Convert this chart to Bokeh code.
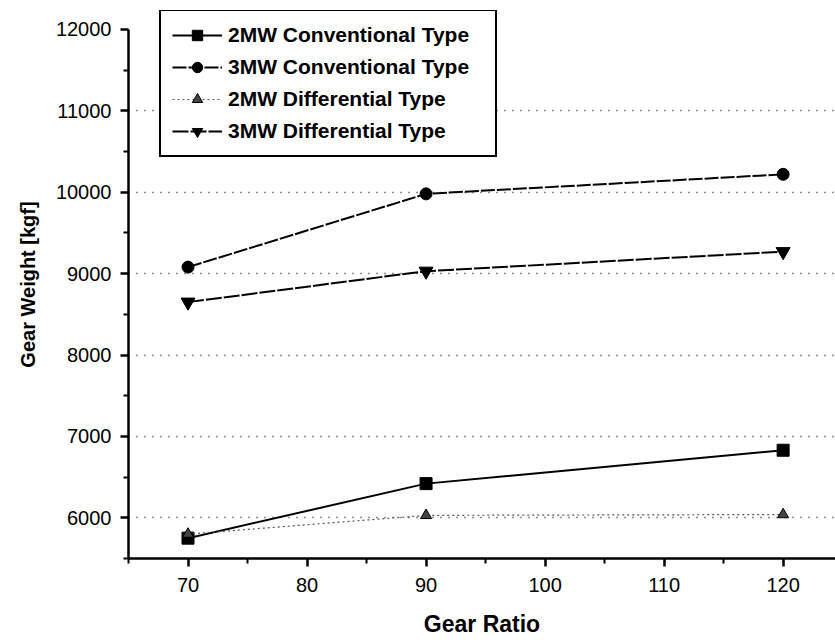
from bokeh.plotting import figure
from bokeh.models import FixedTicker, Range1d, Legend, LegendItem
from bokeh.embed import file_html
from bokeh.resources import INLINE

gear_ratio = [70, 90, 120]
mw2_conventional = [5750, 6420, 6830]
mw3_conventional = [9080, 9980, 10220]
mw2_differential = [5800, 6030, 6040]
mw3_differential = [8650, 9030, 9270]

x_ticks = [70, 80, 90, 100, 110, 120]
x_minor = [65, 75, 85, 95, 105, 115, 125]
y_ticks = [6000, 7000, 8000, 9000, 10000, 11000, 12000]
y_minor = [5500, 6500, 7500, 8500, 9500, 10500, 11500]
grid_ticks = [6000, 7000, 8000, 9000, 10000, 11000]

FONT = "Liberation Sans"

p = figure(width=835, height=642, output_backend="svg", toolbar_location=None,
           x_range=Range1d(65, 124.4), y_range=Range1d(5500, 12233),
           min_border_left=128, min_border_right=0, min_border_top=10,
           min_border_bottom=84)
p.outline_line_color = None
p.background_fill_color = "white"

# grid
p.xgrid.visible = False
p.ygrid.ticker = FixedTicker(ticks=grid_ticks)
p.ygrid.grid_line_color = "#222222"
p.ygrid.grid_line_dash = "1 7"
p.ygrid.grid_line_width = 1.5

# axes
p.xaxis.ticker = FixedTicker(ticks=x_ticks, minor_ticks=x_minor)
p.yaxis.ticker = FixedTicker(ticks=y_ticks, minor_ticks=y_minor)
p.yaxis.bounds = (5500, 12000)
for ax in (p.xaxis, p.yaxis):
    ax.axis_line_width = 2.5
    ax.axis_line_color = "black"
    ax.major_tick_line_width = 2.5
    ax.major_tick_line_color = "black"
    ax.major_tick_out = 8
    ax.major_tick_in = 0
    ax.minor_tick_line_width = 2
    ax.minor_tick_line_color = "black"
    ax.minor_tick_out = 5
    ax.minor_tick_in = 0
    ax.major_label_text_font = FONT
    ax.major_label_text_font_size = "20px"
    ax.major_label_text_color = "black"
    ax.axis_label_text_font = FONT
    ax.axis_label_text_font_style = "bold"
    ax.axis_label_text_color = "black"
p.xaxis.axis_label = "Gear Ratio"
p.yaxis.axis_label = "Gear Weight [kgf]"
p.xaxis.axis_label_text_font_size = "23px"
p.yaxis.axis_label_text_font_size = "20px"
p.xaxis.major_label_standoff = 11
p.yaxis.major_label_standoff = 9
p.xaxis.axis_label_standoff = 16
p.yaxis.axis_label_standoff = 14

# series
l1 = p.line(gear_ratio, mw2_conventional, line_color="black", line_width=2)
m1 = p.scatter(gear_ratio, mw2_conventional, marker="square", size=12,
               fill_color="black", line_color="black")

l2 = p.line(gear_ratio, mw3_conventional, line_color="black", line_width=2,
            line_dash="14 2")
m2 = p.scatter(gear_ratio, mw3_conventional, marker="circle", size=12,
               fill_color="black", line_color="black")

l3 = p.line(gear_ratio, mw2_differential, line_color="#555555", line_width=1.2,
            line_dash="2 3")
m3 = p.scatter(gear_ratio, mw2_differential, marker="triangle", size=11,
               fill_color="#444444", line_color="black")

l4 = p.line(gear_ratio, mw3_differential, line_color="black", line_width=2,
            line_dash="16 2")
m4 = p.scatter(gear_ratio, mw3_differential, marker="inverted_triangle", size=14,
               fill_color="black", line_color="black")

legend = Legend(items=[
    LegendItem(label="2MW Conventional Type", renderers=[l1, m1]),
    LegendItem(label="3MW Conventional Type", renderers=[l2, m2]),
    LegendItem(label="2MW Differential Type", renderers=[l3, m3]),
    LegendItem(label="3MW Differential Type", renderers=[l4, m4]),
], location=(31, 401))
legend.border_line_color = "black"
legend.border_line_alpha = 1
legend.border_line_width = 2.5
legend.background_fill_color = "white"
legend.background_fill_alpha = 1
legend.padding = 11
legend.spacing = 6
legend.glyph_width = 50
legend.glyph_height = 26
legend.label_height = 26
legend.label_width = 256
legend.label_standoff = 6
legend.margin = 0
legend.label_text_font = FONT
legend.label_text_font_size = "21px"
legend.label_text_font_style = "bold"
legend.label_text_color = "black"
p.add_layout(legend, "center")

open("out.html", "w").write(file_html(p, INLINE))
